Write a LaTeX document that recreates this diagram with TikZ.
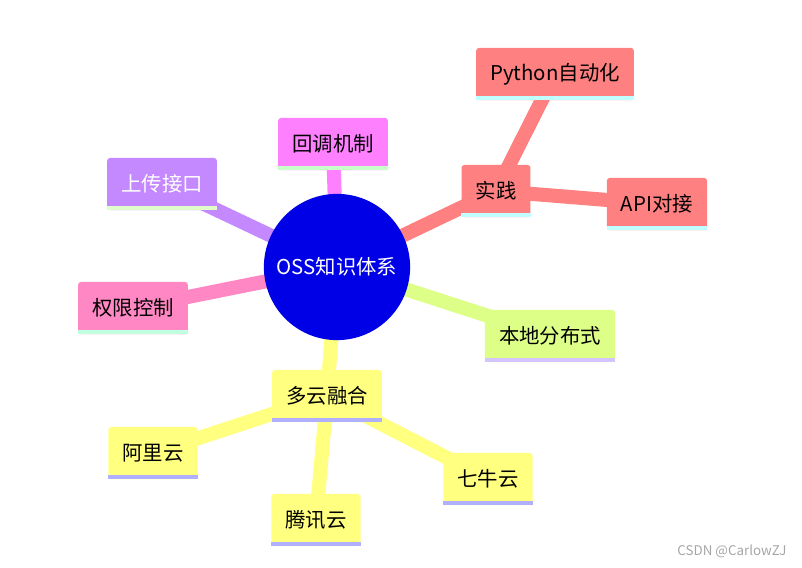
\documentclass[tikz,border=0pt]{standalone}
\usepackage{fontspec}
\setmainfont{Noto Sans CJK SC}
\usepackage{tikz}
\usepackage{xcolor}
\usetikzlibrary{backgrounds}

\definecolor{hub}{HTML}{0000E6}
\definecolor{salmon}{HTML}{FF8080}
\definecolor{magenta}{HTML}{FF80FF}
\definecolor{violet}{HTML}{C488FF}
\definecolor{rose}{HTML}{FF88C4}
\definecolor{lime}{HTML}{DDFF88}
\definecolor{lemon}{HTML}{FFFF80}
\definecolor{barcyan}{HTML}{C0FFFF}
\definecolor{bargreen}{HTML}{C8FFC8}
\definecolor{barpale}{HTML}{E0FFC8}
\definecolor{barmint}{HTML}{C0FFE0}
\definecolor{barlilac}{HTML}{D4C4FF}
\definecolor{barblue}{HTML}{B0B0FF}

% coloured strip under a topic box
\newcommand\topicbar[2]{\fill[#2] ([yshift=2.8pt]#1.south west) rectangle (#1.south east);}

\begin{document}
\begin{tikzpicture}[x=0.025cm, y=-0.025cm, every node/.style={font=\fontsize{14.5}{17}\selectfont},
  topic/.style={fill=#1, rounded corners=2pt, inner xsep=10pt, inner ysep=0pt, minimum height=37pt},
  link/.style={draw=#1, line width=10pt}]
\useasboundingbox (0,0) rectangle (802,567);
\node[circle, fill=hub, text=white, minimum size=104pt, inner sep=0pt] (oss) at (337,267) {OSS知识体系};
\node[topic=salmon] (sj) at (496,191) {实践};
\node[topic=salmon] (py) at (555,74) {Python自动化};
\node[topic=salmon] (api) at (657,204) {API对接};
\node[topic=magenta] (hd) at (333,144) {回调机制};
\node[topic=violet, text=white] (sc) at (162,184) {上传接口};
\node[topic=rose] (qx) at (133,308) {权限控制};
\node[topic=lime] (bd) at (550,336) {本地分布式};
\node[topic=lemon] (dy) at (327,396) {多云融合};
\node[topic=lemon] (al) at (153,453) {阿里云};
\node[topic=lemon] (tx) at (316,520) {腾讯云};
\node[topic=lemon] (qn) at (488,479) {七牛云};
\topicbar{sj}{barcyan} \topicbar{py}{barcyan} \topicbar{api}{barcyan}
\topicbar{hd}{bargreen} \topicbar{sc}{barpale} \topicbar{qx}{barmint}
\topicbar{bd}{barlilac}
\topicbar{dy}{barblue} \topicbar{al}{barblue} \topicbar{tx}{barblue} \topicbar{qn}{barblue}
\begin{scope}[on background layer]
\draw[link=salmon] (oss.center) -- (sj.center) -- (py.center);
\draw[link=salmon] (sj.center) -- (api.center);
\draw[link=magenta] (oss.center) -- (hd.center);
\draw[link=violet] (oss.center) -- (sc.center);
\draw[link=rose] (oss.center) -- (qx.center);
\draw[link=lime] (oss.center) -- (bd.center);
\draw[link=lemon] (oss.center) -- (dy.center);
\draw[link=lemon] (dy.center) -- (al.center);
\draw[link=lemon] (dy.center) -- (tx.center);
\draw[link=lemon] (dy.center) -- (qn.center);
\end{scope}
\node[font=\fontsize{9.5}{11}\selectfont, text=black!35] (wm) at (732,551) {CSDN @CarlowZJ};
\end{tikzpicture}
\end{document}
